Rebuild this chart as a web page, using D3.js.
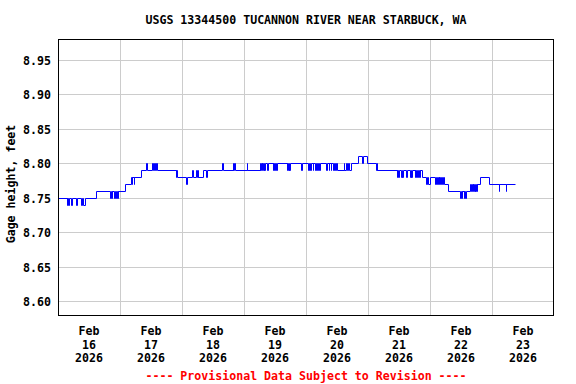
<!DOCTYPE html>
<html>
<head>
<meta charset="utf-8">
<script src="https://cdn.jsdelivr.net/npm/d3@7"></script>
<style>
body { margin: 0; background: #fff; }
text { font-family: "DejaVu Sans Mono", monospace; font-weight: bold; font-size: 11.6px; }
</style>
</head>
<body>
<div id="vis"></div>
<script>
var w = 576;
var h = 384;
var plotLeft = 58, plotRight = 554, plotTop = 39.5, plotBottom = 315.5;

// data: hours since Feb 16 00:00 and gage height (ft), step changes
var hours = [0, 3.5, 3.75, 4.25, 4.5, 5.25, 5.5, 7.25, 7.5, 9.25, 9.5, 9.75, 10.5, 14.75,
	20.5, 20.75, 21.0, 21.25, 22.0, 22.25, 22.75, 23.0, 23.25, 23.5, 26.25,
	28.5, 28.75, 29.0, 29.5, 29.75, 32.25, 34.25, 34.5, 36.75, 37.0, 37.5, 37.75, 38.0, 38.5,
	45.75, 46.0, 46.25, 49.75, 50.0, 52.25, 52.5, 53.75, 54.0, 54.25, 54.5, 56.25, 57.5, 57.75,
	63.75, 64.0, 67.75, 68.0, 68.5, 68.75, 73.25, 73.5,
	78.25, 78.5, 78.75, 79.0, 79.25, 79.5, 79.75, 80.0, 80.25, 81.25, 81.5,
	83.25, 83.5, 83.75, 84.0, 84.75, 85.0, 88.75, 89.0, 89.25, 89.5, 89.75, 90.0, 94.25, 94.5,
	97.0, 97.25, 97.75, 98.0, 98.75, 99.0, 99.75, 100.0, 100.5, 100.75, 101.25, 101.5,
	104.0, 104.25, 105.0, 105.25, 105.75, 106.0, 106.75, 107.0, 107.5, 107.75, 108.0,
	110.75, 111.0, 111.75, 112.0, 112.5, 112.75, 113.5, 116.5, 118.0, 118.25, 119.75,
	123.25, 123.5, 123.75, 131.25, 131.5, 131.75, 132.0, 133.0, 133.25, 133.5, 133.75,
	135.0, 135.25, 136.5, 136.75, 137.0, 137.25, 138.25, 138.5, 138.75, 139.0, 139.5, 139.75,
	140.25, 140.5, 141.0, 142.75, 143.0, 143.5, 144.0,
	146.25, 146.5, 147.0, 147.25, 147.5, 147.75, 148.25, 148.5, 148.75, 149.25, 149.75, 151.0,
	155.75, 156.0, 156.5, 156.75, 157.25, 157.5, 157.75, 158.25,
	159.75, 160.0, 160.5, 160.75, 161.0, 161.25, 161.5, 161.75, 162.0, 162.25, 162.5,
	163.5, 167.0, 170.75, 171.0, 173.5, 173.75, 177.25];
var gage = [8.75, 8.74, 8.75, 8.74, 8.75, 8.74, 8.75, 8.74, 8.75, 8.74, 8.75, 8.74, 8.75, 8.76,
	8.75, 8.76, 8.75, 8.76, 8.75, 8.76, 8.75, 8.76, 8.75, 8.76, 8.77,
	8.78, 8.77, 8.78, 8.77, 8.78, 8.79, 8.80, 8.79, 8.80, 8.79, 8.80, 8.79, 8.80, 8.79,
	8.78, 8.79, 8.78, 8.77, 8.78, 8.79, 8.78, 8.79, 8.78, 8.79, 8.78, 8.79, 8.78, 8.79,
	8.80, 8.79, 8.80, 8.79, 8.80, 8.79, 8.80, 8.79,
	8.80, 8.79, 8.80, 8.79, 8.80, 8.79, 8.80, 8.79, 8.80, 8.79, 8.80,
	8.79, 8.80, 8.79, 8.80, 8.79, 8.80, 8.79, 8.80, 8.79, 8.80, 8.79, 8.80, 8.79, 8.80,
	8.79, 8.80, 8.79, 8.80, 8.79, 8.80, 8.79, 8.80, 8.79, 8.80, 8.79, 8.80,
	8.79, 8.80, 8.79, 8.80, 8.79, 8.80, 8.79, 8.80, 8.79, 8.80, 8.79,
	8.80, 8.79, 8.80, 8.79, 8.80, 8.79, 8.80, 8.81, 8.80, 8.81, 8.80,
	8.79, 8.80, 8.79, 8.78, 8.79, 8.78, 8.79, 8.78, 8.79, 8.78, 8.79,
	8.78, 8.79, 8.78, 8.79, 8.78, 8.79, 8.78, 8.79, 8.78, 8.79, 8.78, 8.79,
	8.78, 8.79, 8.78, 8.77, 8.78, 8.77, 8.78,
	8.77, 8.78, 8.77, 8.78, 8.77, 8.78, 8.77, 8.78, 8.77, 8.78, 8.77, 8.76,
	8.75, 8.76, 8.75, 8.76, 8.75, 8.76, 8.75, 8.76,
	8.77, 8.76, 8.77, 8.76, 8.77, 8.76, 8.77, 8.76, 8.77, 8.76, 8.77,
	8.78, 8.77, 8.76, 8.77, 8.76, 8.77, 8.77];

var yTicks = [8.60, 8.65, 8.70, 8.75, 8.80, 8.85, 8.90, 8.95];
var dayLabels = ["16", "17", "18", "19", "20", "21", "22", "23"];
var startDate = new Date(Date.UTC(2026, 1, 16));
var endDate = new Date(Date.UTC(2026, 1, 24));

var svg = d3.select("#vis")
	.append("svg")
	.attr("width", w)
	.attr("height", h);

svg.append("rect").attr("width", w).attr("height", h).attr("fill", "white");

var x = d3.scaleUtc().domain([startDate, endDate]).range([plotLeft, plotRight]);
var y = d3.scaleLinear().domain([8.58, 8.98]).range([plotBottom, plotTop]);

function snap(v) { return Math.round(v - 0.5) + 0.5; }

// grid lines
svg.selectAll(".hgrid")
	.data(yTicks)
	.enter()
	.append("line")
	.attr("x1", plotLeft).attr("x2", plotRight)
	.attr("y1", function(d) { return snap(y(d)); })
	.attr("y2", function(d) { return snap(y(d)); })
	.attr("stroke", "#cccccc")
	.attr("stroke-width", 1);

var days = d3.utcDay.range(startDate, endDate);
svg.selectAll(".vgrid")
	.data(days.slice(1))
	.enter()
	.append("line")
	.attr("x1", function(d) { return snap(x(d)); })
	.attr("x2", function(d) { return snap(x(d)); })
	.attr("y1", plotTop).attr("y2", plotBottom)
	.attr("stroke", "#cccccc")
	.attr("stroke-width", 1);

// gage line
var pts = hours.map(function(hr, i) {
	return { t: new Date(startDate.getTime() + hr * 3600000), v: gage[i] };
});
var line = d3.line()
	.x(function(d) { return snap(x(d.t)); })
	.y(function(d) { return snap(y(d.v)); })
	.curve(d3.curveStepAfter);

svg.append("path")
	.datum(pts)
	.attr("d", line)
	.attr("fill", "none")
	.attr("stroke", "#0000ff")
	.attr("stroke-width", 1);

// frame
svg.append("rect")
	.attr("x", plotLeft + 0.5).attr("y", plotTop)
	.attr("width", plotRight - plotLeft - 1).attr("height", plotBottom - plotTop)
	.attr("fill", "none")
	.attr("stroke", "black")
	.attr("stroke-width", 1);

// y tick labels
svg.selectAll(".ylab")
	.data(yTicks)
	.enter()
	.append("text")
	.attr("x", 51)
	.attr("y", function(d) { return y(d) + 4.5; })
	.attr("text-anchor", "end")
	.text(function(d) { return d3.format(".2f")(d); });

// x tick labels (noon of each day)
var xl = svg.selectAll(".xlab")
	.data(days)
	.enter()
	.append("text")
	.attr("text-anchor", "middle")
	.attr("transform", function(d) { return "translate(" + x(d3.utcHour.offset(d, 12)) + ",0)"; });
xl.append("tspan").attr("x", 0).attr("y", 335).text("Feb");
xl.append("tspan").attr("x", 0).attr("y", 348.5).text(function(d, i) { return dayLabels[i]; });
xl.append("tspan").attr("x", 0).attr("y", 362).text("2026");

// titles
svg.append("text")
	.attr("x", 306).attr("y", 24)
	.attr("text-anchor", "middle")
	.text("USGS 13344500 TUCANNON RIVER NEAR STARBUCK, WA");

svg.append("text")
	.attr("transform", "translate(15,184) rotate(-90)")
	.attr("text-anchor", "middle")
	.text("Gage height, feet");

svg.append("text")
	.attr("x", 306).attr("y", 380)
	.attr("text-anchor", "middle")
	.attr("fill", "#ff0000")
	.text("---- Provisional Data Subject to Revision ----");
</script>
</body>
</html>
